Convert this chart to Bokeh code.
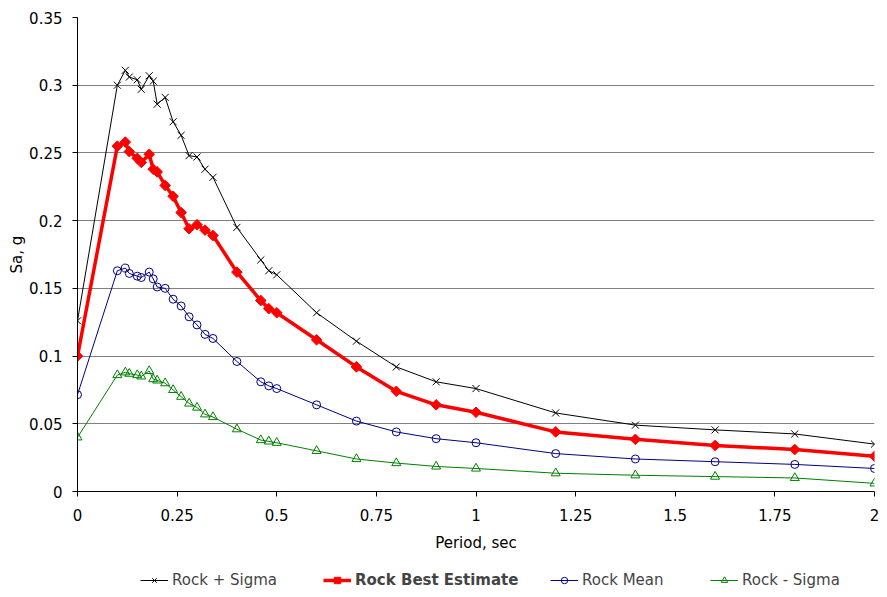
import math
from bokeh.plotting import figure
from bokeh.layouts import column
from bokeh.models import (Range1d, FixedTicker, CustomJSTickFormatter, Legend, LegendItem)
from bokeh.embed import file_html
from bokeh.resources import INLINE

# ---- data ----
period = [0.0, 0.1, 0.12, 0.13, 0.15, 0.16, 0.18, 0.19, 0.2, 0.22, 0.24, 0.26, 0.28, 0.3,
          0.32, 0.34, 0.4, 0.46, 0.48, 0.5, 0.6, 0.7, 0.8, 0.9, 1.0, 1.2, 1.4, 1.6, 1.8, 2.0]

rock_plus_sigma = [0.126, 0.300, 0.311, 0.306, 0.304, 0.297, 0.307, 0.303, 0.286, 0.291,
                   0.273, 0.263, 0.248, 0.247, 0.238, 0.232, 0.195, 0.171, 0.163, 0.160,
                   0.132, 0.111, 0.092, 0.081, 0.076, 0.058, 0.049, 0.0455, 0.0425, 0.035]

rock_best = [0.100, 0.255, 0.258, 0.251, 0.246, 0.243, 0.249, 0.238, 0.236, 0.226,
             0.218, 0.206, 0.194, 0.197, 0.193, 0.189, 0.162, 0.141, 0.135, 0.132,
             0.112, 0.092, 0.074, 0.064, 0.0585, 0.044, 0.0385, 0.034, 0.031, 0.026]

rock_mean = [0.0715, 0.163, 0.165, 0.161, 0.159, 0.158, 0.162, 0.157, 0.151, 0.150,
             0.142, 0.137, 0.129, 0.123, 0.116, 0.113, 0.096, 0.081, 0.078, 0.076,
             0.064, 0.052, 0.044, 0.039, 0.036, 0.028, 0.024, 0.022, 0.020, 0.017]

rock_minus_sigma = [0.040, 0.086, 0.088, 0.087, 0.086, 0.085, 0.089, 0.083, 0.082, 0.080,
                    0.075, 0.070, 0.065, 0.062, 0.057, 0.055, 0.046, 0.038, 0.037, 0.036,
                    0.030, 0.024, 0.021, 0.0185, 0.017, 0.0135, 0.012, 0.011, 0.010, 0.006]

x_ticks = [0, 0.25, 0.5, 0.75, 1, 1.25, 1.5, 1.75, 2]
y_ticks = [0, 0.05, 0.1, 0.15, 0.2, 0.25, 0.3, 0.35]

labels = ["Rock + Sigma", "Rock Best Estimate", "Rock Mean", "Rock - Sigma"]
series = [rock_plus_sigma, rock_best, rock_mean, rock_minus_sigma]

FONT = "DejaVu Sans"
FS = "15px"

STYLES = [
    dict(line=dict(line_color="black", line_width=1),
         mark=dict(marker="x", size=10, line_color="black", line_width=1)),
    dict(line=dict(line_color="#ff0000", line_width=3.5),
         mark=dict(marker="square", angle=math.pi / 4, size=7.5,
                   fill_color="#ff0000", line_color="#ff0000")),
    dict(line=dict(line_color="#000080", line_width=1),
         mark=dict(marker="circle", size=8, fill_color=None, line_color="#000080", line_width=1)),
    dict(line=dict(line_color="#008000", line_width=1),
         mark=dict(marker="triangle", size=9, fill_color=None, line_color="#008000", line_width=1)),
]


def add_series(fig):
    out = []
    for vals, st in zip(series, STYLES):
        lr = fig.line(period, vals, **st["line"])
        sr = fig.scatter(period, vals, **st["mark"])
        out.append((lr, sr))
    return out


p = figure(width=879, height=558, output_backend="svg", toolbar_location=None,
           x_range=Range1d(0, 2), y_range=Range1d(0, 0.35),
           min_border_left=77, min_border_right=5, min_border_top=17, min_border_bottom=67)
p.outline_line_color = None

fmt = CustomJSTickFormatter(code="return String(Math.round(tick*100)/100);")

p.xaxis.ticker = FixedTicker(ticks=x_ticks)
p.yaxis.ticker = FixedTicker(ticks=y_ticks)
p.xaxis.formatter = fmt
p.yaxis.formatter = fmt
for ax in (p.xaxis[0], p.yaxis[0]):
    ax.axis_line_color = "black"
    ax.major_tick_line_color = "black"
    ax.major_tick_in = 0
    ax.major_tick_out = 5
    ax.minor_tick_line_color = None
    ax.major_label_text_font = FONT
    ax.major_label_text_font_size = FS
    ax.major_label_text_color = "black"
    ax.axis_label_text_font = FONT
    ax.axis_label_text_font_size = FS
    ax.axis_label_text_font_style = "normal"
    ax.axis_label_text_color = "black"
p.xaxis.axis_label = "Period, sec"
p.yaxis.axis_label = "Sa, g"
p.xaxis.major_label_standoff = 12
p.xaxis.axis_label_standoff = 10
p.yaxis.major_label_standoff = 10
p.yaxis.axis_label_standoff = 0

p.xgrid.grid_line_color = None
p.ygrid.grid_line_color = "#808080"
p.ygrid.grid_line_width = 1

add_series(p)

# ---- legend strip below the chart ----
lf = figure(width=879, height=31, output_backend="svg", toolbar_location=None,
            x_range=Range1d(0, 2), y_range=Range1d(10, 11),
            min_border_left=77, min_border_right=5, min_border_top=0, min_border_bottom=0)
lf.outline_line_color = None
lf.axis.visible = False
lf.grid.grid_line_color = None
pairs = add_series(lf)

leg_x = [63, 246, 473, 633]
for i, (lab, (lr, sr)) in enumerate(zip(labels, pairs)):
    leg = Legend(items=[LegendItem(label=lab, renderers=[lr, sr])],
                 location=(leg_x[i], 0), orientation="horizontal",
                 padding=0, margin=0, spacing=0,
                 border_line_color=None, background_fill_alpha=0,
                 glyph_width=28, glyph_height=16, label_standoff=4,
                 label_text_font=FONT, label_text_font_size=FS,
                 label_text_font_style="bold" if i == 1 else "normal")
    lf.add_layout(leg)

layout = column(p, lf, spacing=0)
open("out.html", "w").write(file_html(layout, INLINE))
